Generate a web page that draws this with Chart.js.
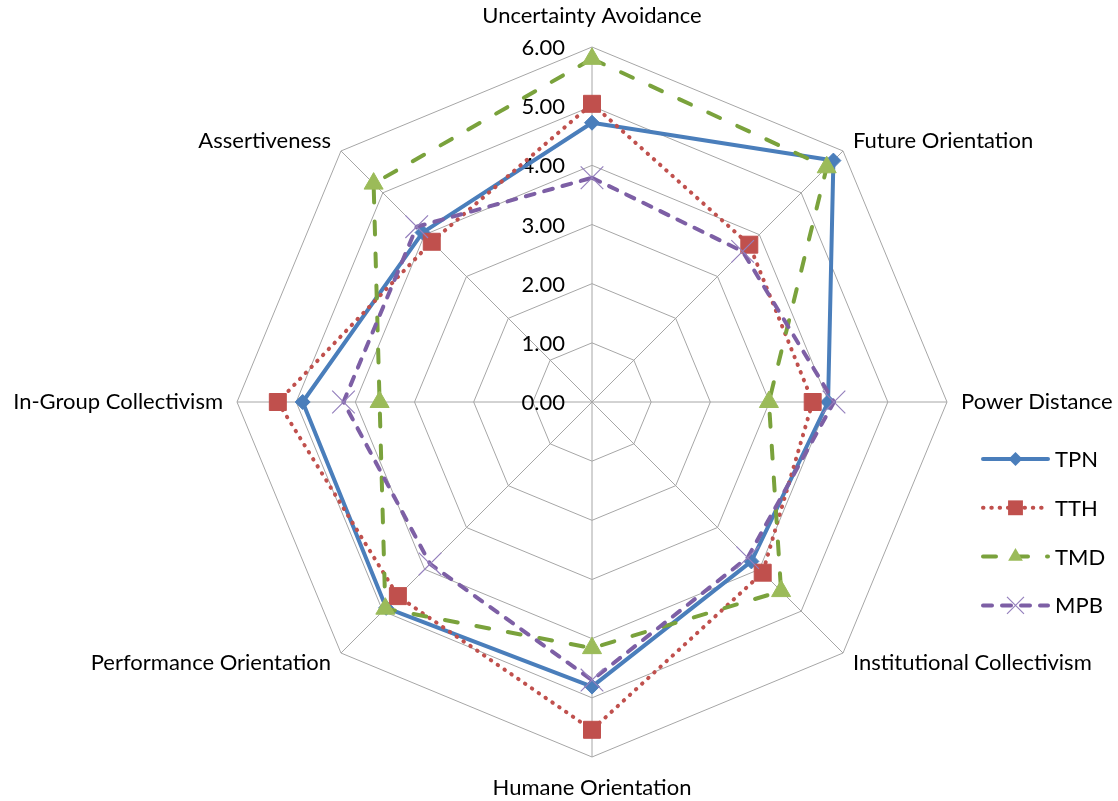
<!DOCTYPE html>
<html>
<head>
<meta charset="utf-8">
<title>Cultural dimensions radar</title>
<script src="https://cdn.jsdelivr.net/npm/chart.js@4.4.1/dist/chart.umd.min.js"></script>
<style>
  html, body { margin: 0; padding: 0; background: #fff; }
  #wrap { width: 1118px; height: 801px; position: relative; }
</style>
</head>
<body>
<div id="wrap"><canvas id="radar" width="1118" height="801"></canvas></div>
<script>
// dimensions, clockwise from the top
const dimensions = [
  "Uncertainty Avoidance", "Future Orientation", "Power Distance",
  "Institutional Collectivism", "Humane Orientation", "Performance Orientation",
  "In-Group Collectivism", "Assertiveness"
];

const tpn = [4.72, 5.77, 3.99, 3.81, 4.81, 4.92, 4.89, 4.05];
const tth = [5.04, 3.76, 3.73, 4.08, 5.54, 4.64, 5.31, 3.83];
const tmd = [5.80, 5.61, 2.99, 4.52, 4.16, 4.94, 3.59, 5.22];
const mpb = [3.79, 3.60, 4.09, 3.72, 4.70, 3.87, 4.20, 4.19];

const seriesNames = ["TPN", "TTH", "TMD", "MPB"];
const tickValues = [0, 1, 2, 3, 4, 5, 6];

const FONT = "Lato, 'Open Sans', sans-serif";
const GRID = "#a6a6a6";

// line colour, marker colour, dash pattern and marker shape per series
const styles = {
  TPN: { line: "#4a7ebb", mark: "#4a7ebb", dash: [], point: "rectRot", radius: 7.5, legendRadius: 7 },
  TTH: { line: "#c0504d", mark: "#c0504d", dash: [0.5, 7.8], point: "rect", radius: 12, legendRadius: 10.5 },
  TMD: { line: "#7aa23c", mark: "#9bbb59", dash: [13, 19], point: "triangle", radius: 11, legendRadius: 8.5 },
  MPB: { line: "#7d5fa5", mark: "#9580bd", dash: [9, 10], point: "crossRot", radius: 16, legendRadius: 12 }
};

const values = { TPN: tpn, TTH: tth, TMD: tmd, MPB: mpb };

function makeDataset(name, i) {
  const s = styles[name];
  return {
    label: name,
    data: values[name],
    order: seriesNames.length - i,
    fill: false,
    tension: 0,
    borderColor: s.line,
    backgroundColor: s.mark,
    borderWidth: 4,
    borderDash: s.dash,
    borderCapStyle: "round",
    borderJoinStyle: "round",
    pointStyle: s.point,
    pointRadius: s.radius,
    pointHoverRadius: s.radius,
    pointBackgroundColor: s.mark,
    pointBorderColor: s.mark,
    pointBorderWidth: name === "MPB" ? 1.2 : 1
  };
}

// own marker drawing for the legend swatches
function drawMarker(ctx, type, x, y, r, color) {
  ctx.save();
  ctx.fillStyle = color;
  ctx.strokeStyle = color;
  ctx.lineWidth = 1.2;
  ctx.setLineDash([]);
  ctx.beginPath();
  if (type === "rectRot") {
    ctx.moveTo(x, y - r); ctx.lineTo(x + r, y); ctx.lineTo(x, y + r); ctx.lineTo(x - r, y);
    ctx.closePath(); ctx.fill();
  } else if (type === "rect") {
    const h = r * Math.SQRT1_2;
    ctx.rect(x - h, y - h, 2 * h, 2 * h); ctx.fill();
  } else if (type === "triangle") {
    ctx.moveTo(x, y - r);
    ctx.lineTo(x + r * Math.sin(Math.PI * 2 / 3), y - r * Math.cos(Math.PI * 2 / 3));
    ctx.lineTo(x + r * Math.sin(Math.PI * 4 / 3), y - r * Math.cos(Math.PI * 4 / 3));
    ctx.closePath(); ctx.fill();
  } else {
    const h = r * Math.SQRT1_2;
    ctx.moveTo(x - h, y - h); ctx.lineTo(x + h, y + h);
    ctx.moveTo(x + h, y - h); ctx.lineTo(x - h, y + h);
    ctx.stroke();
  }
  ctx.restore();
}

const labelsPlugin = {
  id: "radarText",
  beforeDatasetsDraw(chart) {
    const scale = chart.scales.r;
    const ctx = chart.ctx;
    ctx.save();
    ctx.font = "22px " + FONT;
    ctx.fillStyle = "#000";
    ctx.textAlign = "right";
    ctx.textBaseline = "middle";
    tickValues.forEach(v => {
      const d = scale.getDistanceFromCenterForValue(v);
      ctx.fillText(v.toFixed(2), scale.xCenter - 27, scale.yCenter - d + 1);
    });
    ctx.restore();
  },
  afterDraw(chart) {
    const scale = chart.scales.r;
    const ctx = chart.ctx;
    ctx.save();
    ctx.font = "22px " + FONT;
    ctx.fillStyle = "#000";
    ctx.textBaseline = "middle";

    // category names round the outside
    dimensions.forEach((name, i) => {
      const edge = scale.getPointPosition(i, scale.drawingArea);
      const dx = edge.x - scale.xCenter;
      const vertical = Math.abs(dx) < 1;
      const p = scale.getPointPosition(i, scale.drawingArea + (vertical ? 31 : 14));
      ctx.textAlign = vertical ? "center" : (dx > 0 ? "left" : "right");
      ctx.fillText(name, p.x, p.y);
    });

    // legend
    const lx0 = 983, lx1 = 1048, ly0 = 459, step = 48.8;
    seriesNames.forEach((name, i) => {
      const s = styles[name];
      const y = ly0 + i * step;
      ctx.save();
      ctx.strokeStyle = s.line;
      ctx.lineWidth = 4;
      ctx.lineCap = "round";
      ctx.setLineDash(s.dash);
      ctx.beginPath();
      ctx.moveTo(lx0, y);
      ctx.lineTo(lx1, y);
      ctx.stroke();
      ctx.restore();
      drawMarker(ctx, s.point, (lx0 + lx1) / 2, y, s.legendRadius, s.mark);
      ctx.textAlign = "left";
      ctx.fillText(name, 1055, y + 1);
    });
    ctx.restore();
  }
};

new Chart(document.getElementById("radar"), {
  type: "radar",
  data: {
    labels: dimensions,
    datasets: seriesNames.map(makeDataset)
  },
  options: {
    responsive: false,
    animation: false,
    devicePixelRatio: 1,
    layout: { padding: { top: 47, bottom: 44, left: 237, right: 171 } },
    plugins: {
      legend: { display: false },
      tooltip: { enabled: false }
    },
    scales: {
      r: {
        min: 0,
        max: 6,
        ticks: { stepSize: 1, display: false, showLabelBackdrop: false },
        grid: { color: GRID, lineWidth: 1, circular: false },
        angleLines: { color: GRID, lineWidth: 1 },
        pointLabels: { display: false }
      }
    }
  },
  plugins: [labelsPlugin]
});
</script>
</body>
</html>
